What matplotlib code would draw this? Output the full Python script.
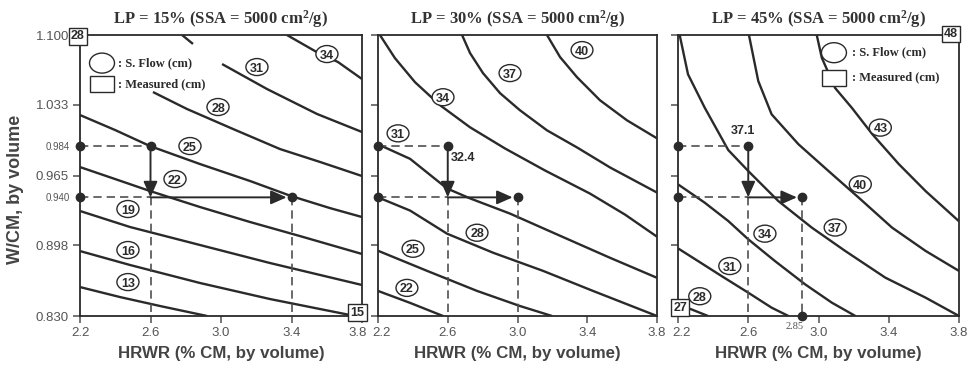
import numpy as np
import matplotlib
matplotlib.use("Agg")
import matplotlib.pyplot as plt
from matplotlib.patches import Ellipse, Rectangle
from matplotlib.transforms import blended_transform_factory, ScaledTranslation

plt.rcParams['font.family'] = ['Liberation Sans', 'DejaVu Sans']
plt.rcParams['mathtext.fontset'] = 'custom'
plt.rcParams['mathtext.rm'] = 'Liberation Serif:bold'
plt.rcParams['mathtext.it'] = 'Liberation Serif:bold'
plt.rcParams['mathtext.bf'] = 'Liberation Serif:bold'

# ---------------- data ----------------
panel_titles = ["LP = 15% (SSA = 5000 cm$^2$/g)",
                "LP = 30% (SSA = 5000 cm$^2$/g)",
                "LP = 45% (SSA = 5000 cm$^2$/g)"]
x_label = "HRWR (% CM, by volume)"
y_label = "W/CM, by volume"
x_ticks = [2.2, 2.6, 3.0, 3.4, 3.8]
x_ticklabels = ["2.2", "2.6", "3.0", "3.4", "3.8"]
y_ticks = [1.100, 1.033, 0.965, 0.898, 0.830]
y_ticklabels = ["1.100", "1.033", "0.965", "0.898", "0.830"]

# marked W/CM levels (positions) and their labels
wcm_marks = [0.993, 0.944]
wcm_mark_labels = ["0.984", "0.940"]
hrwr_start = 2.2
hrwr_step = 2.6
hrwr_result = [3.4, 3.0, 2.905]          # HRWR needed at lower W/CM
hrwr_result_label = [None, None, "2.85"]
flow_at_step = [None, "32.4", "37.1"]   # predicted slump flow at (2.6, upper W/CM)

# contour lines (slump flow, cm): level -> (HRWR list, W/CM list)
contours_lp15 = {
    34: ([3.374, 3.533, 3.664, 3.8], [1.100, 1.0846, 1.074, 1.0577]),
    31: ([2.779, 2.841, np.nan, 3.006, 3.261, 3.545, 3.8],
         [1.100, 1.0914, np.nan, 1.0721, 1.0481, 1.0241, 1.0068]),
    28: ([2.614, 2.807, 3.068, 3.335, 3.562, 3.8],
         [1.0452, 1.0289, 1.0097, 0.9904, 0.9780, 0.9645]),
    25: ([2.2, 2.399, 2.597, 2.881, 3.165, 3.397, 3.618, 3.8],
         [1.0231, 1.0087, 0.9933, 0.9760, 0.9597, 0.9453, 0.9337, 0.9251]),
    22: ([2.2, 2.399, 2.597, 2.881, 3.165, 3.448, 3.8],
         [0.9731, 0.9616, 0.9501, 0.9347, 0.9203, 0.9068, 0.8896]),
    19: ([2.2, 2.484, 2.881, 3.278, 3.8], [0.9309, 0.9155, 0.8982, 0.8809, 0.8598]),
    16: ([2.2, 2.484, 2.881, 3.278, 3.76], [0.8924, 0.8790, 0.8617, 0.8463, 0.830]),
    13: ([2.2, 2.427, 2.654, 2.921], [0.8578, 0.8482, 0.8396, 0.830]),
}
labels_lp15 = {34: (3.601, 1.0817), 31: (3.204, 1.0692), 28: (2.983, 1.0308),
               25: (2.824, 0.9933), 22: (2.739, 0.9616), 19: (2.472, 0.9328),
               16: (2.472, 0.8934), 13: (2.472, 0.8626)}

contours_lp30 = {
    40: ([3.169, 3.244, 3.341, 3.473, 3.628, 3.8],
         [1.100, 1.0788, 1.0595, 1.0373, 1.0180, 1.0007]),
    37: ([2.682, 2.728, 2.802, 2.900, 3.014, 3.169, 3.341, 3.531, 3.8],
         [1.100, 1.0826, 1.0634, 1.0441, 1.0277, 1.0084, 0.9920, 0.9727, 0.9486]),
    34: ([2.211, 2.297, 2.412, 2.556, 2.728, 2.928, 3.158, 3.416, 3.617, 3.8],
         [1.100, 1.0778, 1.0547, 1.0325, 1.0113, 0.9910, 0.9698, 0.9476, 0.9274, 0.9062]),
    31: ([2.2, 2.384, 2.596, 2.728, 2.957, 3.244, 3.531, 3.8],
         [0.995, 0.981, 0.9525, 0.943, 0.9284, 0.9071, 0.8859, 0.8667]),
    28: ([2.2, 2.384, 2.596, 2.860, 3.146, 3.433, 3.8],
         [0.944, 0.9313, 0.9091, 0.8908, 0.8734, 0.8541, 0.830]),
    25: ([2.2, 2.481, 2.768, 3.014, 3.198], [0.8927, 0.8734, 0.8541, 0.8396, 0.830]),
    22: ([2.2, 2.384, 2.573], [0.8541, 0.8426, 0.830]),
}
labels_lp30 = {40: (3.370, 1.0855), 37: (2.957, 1.0634), 34: (2.573, 1.0402),
               31: (2.315, 1.0055), 28: (2.768, 0.910), 25: (2.401, 0.8946),
               22: (2.366, 0.857)}

contours_lp45 = {
    43: ([2.990, 3.019, 3.095, 3.190, 3.305, 3.457, 3.610, 3.8],
         [1.100, 1.078, 1.049, 1.030, 1.005, 0.976, 0.950, 0.921]),
    40: ([2.604, 2.657, 2.733, 2.886, 3.057, 3.229, 3.419, 3.610, 3.8],
         [1.100, 1.0558, 1.0238, 0.9950, 0.9693, 0.9437, 0.9149, 0.8925, 0.8733]),
    37: ([2.2095, 2.257, 2.352, 2.486, 2.600, 2.771, 2.962, 3.152, 3.381, 3.610, 3.8],
         [1.100, 1.0622, 1.0302, 0.9895, 0.9693, 0.9405, 0.9149, 0.8925, 0.8668, 0.8476, 0.830]),
    34: ([2.2, 2.352, 2.486, 2.600, 2.752, 2.924, 3.076, 3.210],
         [0.9565, 0.9389, 0.9213, 0.9037, 0.8828, 0.8604, 0.8428, 0.830]),
    31: ([2.2, 2.314, 2.448, 2.600, 2.733, 2.829],
         [0.895, 0.8828, 0.8684, 0.8524, 0.838, 0.830]),
    28: ([2.2, 2.276, 2.371], [0.841, 0.8364, 0.830]),
}
labels_lp45 = {43: (3.352, 1.011), 40: (3.238, 0.9565), 37: (3.095, 0.915),
               34: (2.695, 0.9091), 31: (2.495, 0.878), 28: (2.324, 0.849)}

# measured slump flow at corners: (text, axes-x, axes-y)
measured_lp15 = [("28", -0.008, 0.995), ("15", 0.984, 0.012)]
measured_lp30 = []
measured_lp45 = [("27", 0.008, 0.03), ("48", 0.971, 1.003)]

panels = [(contours_lp15, labels_lp15, measured_lp15),
          (contours_lp30, labels_lp30, measured_lp30),
          (contours_lp45, labels_lp45, measured_lp45)]

# legend placement (axes fraction) for panels that show it
legend_pos = {0: (0.078, 0.90, 0.825, 0.135), 2: (0.555, 0.937, 0.848, 0.619)}

# ---------------- style ----------------
INK = '#2a2a2a'
GREY = '#505050'
W, H = 973, 369
fig = plt.figure(figsize=(W / 100, H / 100), dpi=100)
fig.patch.set_facecolor('white')

lefts = [80, 378, 678]
widths = [282, 279, 281]
top_px, bot_px = 35, 316

XMIN, XMAX, YMIN, YMAX = 2.2, 3.8, 0.830, 1.100
ell_w = 22 / 281 * (XMAX - XMIN)
ell_h = 17 / 281 * (YMAX - YMIN)

for i, (l, w) in enumerate(zip(lefts, widths)):
    ax = fig.add_axes([l / W, 1 - bot_px / H, w / W, (bot_px - top_px) / H])
    contours, labels, measured = panels[i]
    ax.set_xlim(XMIN, XMAX)
    ax.set_ylim(YMIN, YMAX)
    for s in ax.spines.values():
        s.set_color(INK)
        s.set_linewidth(1.3)

    # contour lines
    for lev, (xs, ys) in contours.items():
        ax.plot(xs, ys, color=INK, lw=1.7, solid_capstyle='butt', zorder=2)
    for lev, (lx, ly) in labels.items():
        ax.add_patch(Ellipse((lx, ly), ell_w, ell_h, facecolor='white',
                             edgecolor=INK, lw=1.0, zorder=5))
        ax.text(lx, ly, str(lev), ha='center', va='center_baseline', fontsize=9,
                fontweight='bold', color=INK, zorder=6)

    # procedure lines
    hi, lo = wcm_marks
    xe = hrwr_result[i]
    dash = dict(color=GREY, lw=1.2, ls=(0, (5, 3)), zorder=3)
    ax.plot([hrwr_start, hrwr_step], [hi, hi], **dash)
    ax.plot([hrwr_start, hrwr_step], [lo, lo], **dash)
    ax.plot([hrwr_step, hrwr_step], [lo, YMIN], **dash)
    ax.plot([xe, xe], [lo, YMIN], **dash)
    arrow = dict(arrowstyle='-|>,head_length=0.95,head_width=0.42', mutation_scale=10,
                 color=INK, lw=1.4, shrinkA=0, shrinkB=0)
    ax.annotate('', xy=(hrwr_step, lo), xytext=(hrwr_step, hi), arrowprops=arrow, zorder=4)
    arrow2 = dict(arrow, shrinkB=3.5)
    ax.annotate('', xy=(xe, lo), xytext=(hrwr_step, lo), arrowprops=arrow2, zorder=4)
    ax.plot([hrwr_start, hrwr_step, hrwr_start, xe], [hi, hi, lo, lo], 'o', ms=6,
            color=INK, zorder=7, clip_on=False)
    if hrwr_result_label[i]:
        ax.plot([xe], [YMIN], 'o', ms=6, color=INK, zorder=7, clip_on=False)
        tr = blended_transform_factory(ax.transData, ax.transAxes)
        ax.text(xe - 0.04, -0.038, hrwr_result_label[i], transform=tr, ha='center',
                va='center', fontsize=7.5, family='Liberation Serif', color=GREY)
    if flow_at_step[i]:
        if i == 1:
            ax.text(hrwr_step + 0.02, hi - 0.011, flow_at_step[i], ha='left', va='center',
                    fontsize=9, fontweight='bold', color=INK, zorder=6)
        else:
            ax.text(hrwr_step - 0.03, hi + 0.0145, flow_at_step[i], ha='center', va='center',
                    fontsize=9, fontweight='bold', color=INK, zorder=6)

    # measured boxes
    for txt, mx, my in measured:
        ax.text(mx, my, txt, transform=ax.transAxes, ha='center', va='center',
                fontsize=9, fontweight='bold', color=INK, zorder=9, clip_on=False,
                bbox=dict(boxstyle='square,pad=0.18', fc='white', ec=INK, lw=1.0))

    # legend
    if i in legend_pos:
        cx, cy1, cy2, tx = legend_pos[i]
        ax.add_patch(Ellipse((cx, cy1), 25 / w, 20 / 281, transform=ax.transAxes,
                             facecolor='white', edgecolor=INK, lw=1.0, zorder=8))
        ax.add_patch(Rectangle((cx - 12 / w, cy2 - 8 / 281), 24 / w, 16 / 281,
                               transform=ax.transAxes, facecolor='white',
                               edgecolor=INK, lw=1.0, zorder=8))
        ax.text(tx, cy1, ': S. Flow (cm)', transform=ax.transAxes, ha='left',
                va='center', fontsize=9, family='Liberation Serif', fontweight='bold',
                color=INK, zorder=8)
        ax.text(tx, cy2, ': Measured (cm)', transform=ax.transAxes, ha='left',
                va='center', fontsize=9, family='Liberation Serif', fontweight='bold',
                color=INK, zorder=8)

    # ticks
    ax.set_xticks(x_ticks)
    ax.set_xticklabels(x_ticklabels)
    ax.set_yticks(y_ticks)
    if i == 0:
        ax.set_yticklabels(y_ticklabels)
        ax.set_yticks(wcm_marks, minor=True)
        ax.set_yticklabels(wcm_mark_labels, minor=True, fontsize=7)
        ax.tick_params(axis='y', which='minor', length=0, pad=7, labelcolor='#555')
    else:
        ax.set_yticklabels([])
    ax.tick_params(which='major', direction='out', length=5, width=1.1, color=GREY,
                   labelcolor='#555', labelsize=9.5, pad=3)
    ax.set_xlabel(x_label, fontsize=12.2, fontweight='bold', color='#444', labelpad=5)
    ax.text(0.5, 1.055, panel_titles[i], transform=ax.transAxes, ha='center',
            va='center', fontsize=12, family='Liberation Serif', fontweight='bold',
            color='#333')

    # nudge edge tick labels apart (as in the reference)
    ticks = ax.xaxis.get_major_ticks()
    if i == 0:
        lab = ticks[-1].label1
        lab.set_transform(lab.get_transform() + ScaledTranslation(-0.045, 0, fig.dpi_scale_trans))
    else:
        lab = ticks[0].label1
        lab.set_transform(lab.get_transform() + ScaledTranslation(0.035, 0, fig.dpi_scale_trans))

fig.text(16 / W, 1 - 189 / H, y_label, rotation=90, ha='center', va='center',
         fontsize=13, fontweight='bold', color='#444')

fig.savefig('out.png', dpi=100, facecolor='white')
